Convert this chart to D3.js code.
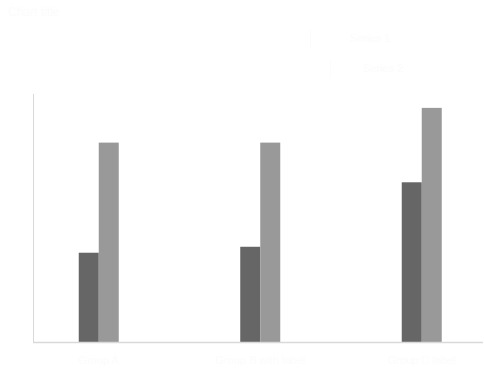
<!DOCTYPE html>
<html>
<head>
<meta charset="utf-8">
<script src="https://cdn.jsdelivr.net/npm/d3@7"></script>
<style>
  html, body { margin: 0; padding: 0; background: #ffffff; }
  svg { display: block; font-family: "Liberation Sans", Arial, sans-serif; }
</style>
</head>
<body>
<svg id="chart" width="484" height="369"></svg>
<script>
// ---- data ----
const categories = ["Group A", "Group B with label", "Group C label"];
const seriesNames = ["Series 1", "Series 2"];
const series1 = [90, 96, 161];
const series2 = [201, 201, 236];
const yMax = 250;
const titleText = "Chart title";

// ---- layout ----
const svg = d3.select("#chart");
const plot = { left: 33, right: 483, top: 94, bottom: 342 };
const faint = "#fcfcfc";

const x = d3.scaleBand()
  .domain(categories)
  .range([18, 502.5])
  .paddingInner(1 - 40 / 161.5)
  .paddingOuter((1 - 40 / 161.5) / 2);

const xSub = d3.scaleBand()
  .domain(seriesNames)
  .range([0, x.bandwidth()]);

const y = d3.scaleLinear()
  .domain([0, yMax])
  .range([plot.bottom, plot.top]);

const colors = d3.scaleOrdinal().domain(seriesNames).range(["#666666", "#999999"]);

const rows = categories.map((c, i) => ({ cat: c, values: [
  { name: seriesNames[0], v: series1[i] },
  { name: seriesNames[1], v: series2[i] }
]}));

// title (near-invisible in the reference)
svg.append("text")
  .attr("x", 8).attr("y", 16)
  .attr("font-size", 12)
  .attr("fill", faint)
  .text(titleText);

// bars
const g = svg.append("g");
g.selectAll("g.grp")
  .data(rows)
  .join("g")
  .attr("class", "grp")
  .attr("transform", d => `translate(${x(d.cat)},0)`)
  .selectAll("rect")
  .data(d => d.values)
  .join("rect")
  .attr("x", d => xSub(d.name))
  .attr("width", xSub.bandwidth())
  .attr("y", d => y(d.v))
  .attr("height", d => y(0) - y(d.v))
  .attr("fill", d => colors(d.name));

// x axis line
svg.append("line")
  .attr("x1", plot.left).attr("x2", plot.right)
  .attr("y1", plot.bottom + 0.5).attr("y2", plot.bottom + 0.5)
  .attr("stroke", "#d9d9d9").attr("stroke-width", 1.5);

// y axis line
svg.append("line")
  .attr("x1", plot.left + 0.5).attr("x2", plot.left + 0.5)
  .attr("y1", plot.top).attr("y2", plot.bottom)
  .attr("stroke", "#d9d9d9").attr("stroke-width", 1);

// x labels (faint)
const xAxis = d3.axisBottom(x).tickSize(0).tickPadding(14);
const xg = svg.append("g").attr("transform", `translate(0,${plot.bottom})`).call(xAxis);
xg.select(".domain").remove();
xg.selectAll("text").attr("fill", faint).attr("font-size", 11);

// legend (faint)
const legend = svg.append("g").attr("transform", "translate(310,38)");
seriesNames.forEach((s, i) => {
  const lg = legend.append("g").attr("transform", `translate(${i * 20},${i * 30})`);
  lg.append("rect").attr("x", 0).attr("y", -8).attr("width", 1).attr("height", 18).attr("fill", faint);
  lg.append("text").attr("x", 40 - i * 7).attr("y", 4).attr("font-size", 11).attr("fill", faint).text(s);
});
</script>
</body>
</html>
